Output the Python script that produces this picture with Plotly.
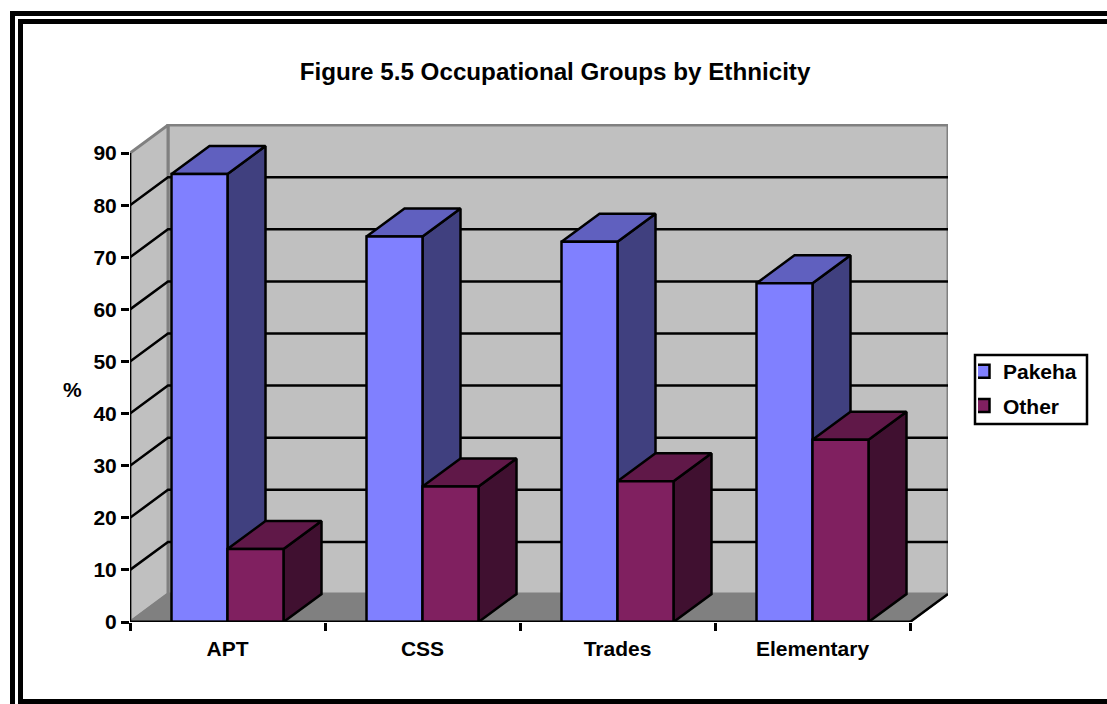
import plotly.graph_objects as go

# Chart data (percent of each occupational group)
categories = ["APT", "CSS", "Trades", "Elementary"]
pakeha = [86, 74, 73, 65]
other = [14, 26, 27, 35]
y_ticks = [0, 10, 20, 30, 40, 50, 60, 70, 80, 90]

W, H = 1107, 704
LEFT, RIGHT_FRONT, BOTTOM = 130, 910, 622
PX_PER_CAT = (RIGHT_FRONT - LEFT) / len(categories)
PX_PER_UNIT = 5.21
DEPTH_PX = (38, 28)
STROKE = 2.5

# Oblique projection offsets expressed in axis units
dx = DEPTH_PX[0] / PX_PER_CAT
dy = DEPTH_PX[1] / PX_PER_UNIT
bar_w = 56 / PX_PER_CAT
x0, x1 = -0.5, len(categories) - 0.5
top = y_ticks[-1]

WALL, FLOOR, EDGE = "#C0C0C0", "#808080", "#808080"


def poly(xs, ys, fill, width=STROKE, color="black"):
    return go.Scatter(x=xs, y=ys, mode="lines", fill="toself", fillcolor=fill,
                      line=dict(color=color, width=width), showlegend=False,
                      hoverinfo="skip", cliponaxis=False)


def line(xs, ys, color="black", width=STROKE):
    return go.Scatter(x=xs, y=ys, mode="lines", line=dict(color=color, width=width),
                      showlegend=False, hoverinfo="skip", cliponaxis=False)


def series_faces(values, start, front, roof, side):
    """Side, roof and front polygons for one series, one trace per face type."""
    sx, sy, rx, ry, fx, fy = [], [], [], [], [], []
    for i, v in enumerate(values):
        a, b = i + start, i + start + bar_w
        sx += [b, b + dx, b + dx, b, b, None]
        sy += [0, dy, v + dy, v, 0, None]
        rx += [a, a + dx, b + dx, b, a, None]
        ry += [v, v + dy, v + dy, v, v, None]
        fx += [a, b, b, a, a, None]
        fy += [0, 0, v, v, 0, None]
    return [poly(sx, sy, side), poly(rx, ry, roof), poly(fx, fy, front)]


fig = go.Figure()

# Walls and floor of the 3D box
fig.add_trace(poly([x0 + dx, x1 + dx, x1 + dx, x0 + dx, x0 + dx],
                   [dy, dy, top + dy, top + dy, dy], WALL, 3, EDGE))
fig.add_trace(poly([x0, x0 + dx, x0 + dx, x0, x0], [0, dy, top + dy, top, 0], WALL, 3, EDGE))
fig.add_trace(poly([x0, x0 + dx, x1 + dx, x1, x0], [0, dy, dy, 0, 0], FLOOR, 2, EDGE))

# Gridlines wrap from the left wall onto the back wall
gx, gy = [], []
for t in y_ticks[1:-1]:
    gx += [x0, x0 + dx, x1 + dx, None]
    gy += [t, t + dy, t + dy, None]
fig.add_trace(line(gx, gy))

# Front axis lines and right floor edge
fig.add_trace(line([x0, x0], [0, top]))
fig.add_trace(line([x1, x1 + dx], [0, dy]))

for tr in series_faces(pakeha, -bar_w, "#8080FF", "#6060BF", "#40407F"):
    fig.add_trace(tr)
for tr in series_faces(other, 0, "#802060", "#601848", "#401030"):
    fig.add_trace(tr)

fig.add_trace(line([x0, x1], [0, 0], width=3))

# Legend entries
for name, color in (("Pakeha", "#8080FF"), ("Other", "#802060")):
    fig.add_trace(go.Scatter(x=[None], y=[None], mode="markers", name=name, legendgroup=name,
                             marker=dict(symbol="square", size=13, color=color,
                                         line=dict(color="black", width=2.5))))


# Double frame around the chart area
def band(px0, py0, px1, py1):
    return dict(type="rect", xref="paper", yref="paper", layer="above",
                x0=px0 / W, x1=px1 / W, y0=1 - py0 / H, y1=1 - py1 / H,
                fillcolor="black", line=dict(width=0))


shapes = [band(10, 11, W, 16), band(18, 19, W, 24), band(10, 11, 15, H),
          band(18, 19, 23, H), band(18, 699, W, H),
          # Legend box
          dict(type="rect", xref="paper", yref="paper", layer="below",
               x0=975 / W, x1=1087 / W, y0=1 - 355 / H, y1=1 - 424 / H,
               fillcolor="white", line=dict(color="black", width=2.5))]

font = dict(family="Liberation Sans, Arial, sans-serif", size=21, color="black", weight=700)

fig.update_layout(
    width=W, height=H, autosize=False,
    margin=dict(l=0, r=0, t=0, b=0, autoexpand=False),
    paper_bgcolor="white", plot_bgcolor="rgba(0,0,0,0)",
    font=font,
    shapes=shapes,
    title=dict(text="Figure 5.5 Occupational Groups by Ethnicity",
               x=555 / W, xanchor="center", y=1 - 72 / H, yanchor="middle",
               font=dict(family=font["family"], size=24.2, color="black", weight=700)),
    xaxis=dict(domain=[LEFT / W, (RIGHT_FRONT + DEPTH_PX[0]) / W],
               range=[x0, x1 + dx], showgrid=False, zeroline=False, showline=False,
               tickmode="array", tickvals=list(range(len(categories))), ticktext=categories,
               ticks="", ticklabelstandoff=12, tickfont=font,
               minor=dict(tickmode="array",
                          tickvals=[x0 + i for i in range(len(categories) + 1)],
                          ticks="outside", ticklen=8, tickwidth=2.5, tickcolor="black",
                          showgrid=False)),
    yaxis=dict(domain=[(H - BOTTOM) / H, (H - 124) / H],
               range=[0, (BOTTOM - 124) / PX_PER_UNIT], showgrid=False, zeroline=False,
               showline=False, tickmode="array", tickvals=y_ticks,
               ticks="outside", ticklen=8, tickwidth=2.5, tickcolor="black", tickfont=font),
    annotations=[dict(text="%", xref="paper", yref="paper", x=72 / W, y=1 - 389 / H,
                      xanchor="center", yanchor="middle", showarrow=False, font=font)],
    legend=dict(x=978 / W, xanchor="left", y=1 - 351 / H, yanchor="top",
                borderwidth=0, bgcolor="rgba(0,0,0,0)", font=font,
                indentation=-15, tracegroupgap=4, entrywidth=73, entrywidthmode="pixels"),
    showlegend=True,
)

fig.write_html("out.html")
